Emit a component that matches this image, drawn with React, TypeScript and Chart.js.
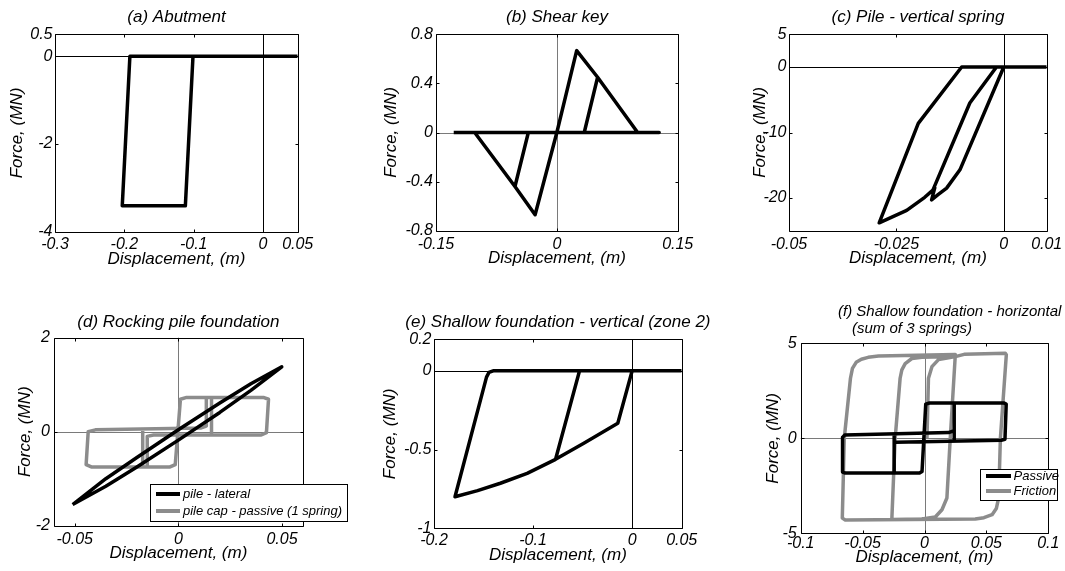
import React, { useEffect, useRef } from 'react';
import { Chart, registerables } from 'chart.js';

Chart.register(...registerables);

const FAMILY = "'Liberation Sans', Arial, Helvetica, sans-serif";
const BLACK = '#000000';
const GRAY = '#8c8c8c';
const ZERO_GRAY = '#7a7a7a';
const TICK_SIZE = 16;
const LABEL_SIZE = 17;
const TITLE_SIZE = 17;
const LEGEND_SIZE = 13;
const X_LABEL = 'Displacement, (m)';
const Y_LABEL = 'Force, (MN)';

// (a) Abutment
const abutmentDisp = [0.05, -0.192, -0.203, -0.112, -0.101];
const abutmentForce = [0, 0, -3.41, -3.41, 0];
const abutmentXTicks = [-0.3, -0.2, -0.1, 0, 0.05];
const abutmentYTicks = [-4, -2, 0, 0.5];

// (b) Shear key
const shearKeyDisp = [-0.128, 0.127, 0.1003, 0.0506, 0.034, 0.0506, 0.0246, 0, -0.027, -0.052, -0.0354, -0.052, -0.102];
const shearKeyForce = [0, 0, 0, 0.45, 0, 0.45, 0.667, 0, -0.67, -0.44, 0, -0.44, 0];
const shearKeyXTicks = [-0.15, 0, 0.15];
const shearKeyYTicks = [-0.8, -0.4, 0, 0.4, 0.8];

// (c) Pile - vertical spring
const pileVertDisp = [0.01, -0.0098, -0.0199, -0.029, -0.0226, -0.0184, -0.0165, -0.0079, -0.0017, 0, -0.0102, -0.0133, -0.0153, -0.0168, -0.016];
const pileVertForce = [0, 0, -8.6, -23.8, -21.9, -19.9, -18.8, -5.5, 0, 0, -15.7, -18.5, -19.5, -20.3, -18.3];
const pileVertXTicks = [-0.05, -0.025, 0, 0.01];
const pileVertYTicks = [-20, -10, 0, 5];

// (d) Rocking pile foundation
const pileLateralDisp = [-0.051, -0.035, -0.02, 0, 0.02, 0.035, 0.0499, 0.035, 0.02, 0, -0.02, -0.035, -0.051];
const pileLateralForce = [-1.55, -1.0, -0.55, 0.04, 0.61, 1.02, 1.38, 0.88, 0.41, -0.18, -0.75, -1.16, -1.55];
const pileCapDisp = [0.0135, 0.0135, 0.011, -0.04, -0.0435, -0.0445, -0.042, -0.004, -0.0015, 0.001, 0.004, 0.041, 0.0435, 0.0425, 0.04, -0.012, -0.015, -0.015, null, 0.016, 0.016, null, -0.0172, -0.0172];
const pileCapForce = [0.7, 0.12, 0.08, 0.04, 0.0, -0.7, -0.75, -0.75, -0.7, 0.69, 0.73, 0.73, 0.69, -0.02, -0.07, -0.07, -0.1, -0.72, null, -0.06, 0.73, null, 0.045, -0.75];
const rockingXTicks = [-0.05, 0, 0.05];
const rockingYTicks = [-2, 0, 2];

// (e) Shallow foundation - vertical (zone 2)
const shallowVertDisp = [0.05, -0.1403, -0.1445, -0.147, -0.1788, -0.156, -0.133, -0.106, -0.0773, -0.0488, -0.0145, 0, null, -0.0773, -0.0531];
const shallowVertForce = [0, 0, -0.01, -0.04, -0.8, -0.761, -0.714, -0.651, -0.562, -0.46, -0.333, 0, null, -0.562, 0];
const shallowVertXTicks = [-0.2, -0.1, 0, 0.05];
const shallowVertYTicks = [-1, -0.5, 0, 0.2];

// (f) Shallow foundation - horizontal (sum of 3 springs)
const passiveDisp = [0.024, 0.0195, -0.0645, -0.0662, -0.0662, -0.064, -0.004, -0.002, 0.001, 0.004, 0.064, 0.066, 0.065, 0.062, -0.0235, null, 0.024, 0.024, null, -0.0245, -0.0245];
const passiveForce = [0.4, 0.3, 0.17, 0.05, -1.78, -1.83, -1.83, -1.75, 1.8, 1.86, 1.86, 1.8, -0.05, -0.1, -0.21, null, -0.12, 1.86, null, 0.21, -1.83];
const frictionDisp = [0.002, 0.0032, 0.006, 0.0113, 0.0194, 0.0249, 0.032, 0.0653, 0.0661, 0.0613, 0.0599, 0.058, 0.0546, 0.048, 0.041, -0.064, -0.0664, -0.0648, -0.0598, -0.0582, -0.0552, -0.051, -0.0455, -0.0372, 0.0249, 0.0208, 0.0181, 0.0141, 0.0087, -0.0021, -0.0264, -0.0237, -0.0197, -0.0183, -0.0156, -0.0102, -0.0021, 0.0249];
const frictionForce = [0, 3.16, 3.77, 4.14, 4.24, 4.3, 4.42, 4.47, 4.4, 0, -3.14, -3.7, -4.02, -4.18, -4.25, -4.3, -4.2, 0, 3.16, 3.68, 4.0, 4.16, 4.26, 4.33, 4.41, 0, -3.14, -3.76, -4.14, -4.25, -4.28, 0, 3.16, 3.6, 3.93, 4.2, 4.27, 4.3];
const shallowHorXTicks = [-0.1, -0.05, 0, 0.05, 0.1];
const shallowHorYTicks = [-5, 0, 5];

const panels: any[] = [
  {
    box: { l: 55, t: 34.3, r: 297.7, b: 231.7 }, top: 0, extraRight: 40,
    yTitleX: 17, xTitleY: 259.3, xTickPad: 3, yTickPad: 2.5,
    x: { min: -0.3, max: 0.05, ticks: abutmentXTicks }, y: { min: -4, max: 0.5, ticks: abutmentYTicks },
    zero: BLACK,
    titles: [{ text: '(a) Abutment', x: 176.5, y: 17.5, align: 'center', size: TITLE_SIZE }],
    series: [{ label: 'Abutment', xs: abutmentDisp, ys: abutmentForce, color: BLACK, width: 3.5 }],
  },
  {
    box: { l: 436, t: 34.3, r: 677.7, b: 230.7 }, top: 0, extraRight: 30,
    yTitleX: 391.7, xTitleY: 258.3, xTickPad: 4, yTickPad: 3,
    x: { min: -0.15, max: 0.15, ticks: shearKeyXTicks }, y: { min: -0.8, max: 0.8, ticks: shearKeyYTicks },
    zero: ZERO_GRAY,
    titles: [{ text: '(b) Shear key', x: 557, y: 17.5, align: 'center', size: TITLE_SIZE }],
    series: [{ label: 'Shear key', xs: shearKeyDisp, ys: shearKeyForce, color: BLACK, width: 3.5 }],
  },
  {
    box: { l: 789, t: 34.3, r: 1046.7, b: 230.7 }, top: 0, extraRight: 25,
    yTitleX: 760, xTitleY: 258.3, xTickPad: 4, yTickPad: 2.5,
    x: { min: -0.05, max: 0.01, ticks: pileVertXTicks }, y: { min: -25, max: 5, ticks: pileVertYTicks },
    zero: BLACK,
    titles: [{ text: '(c) Pile - vertical spring', x: 918, y: 17.5, align: 'center', size: TITLE_SIZE }],
    series: [{ label: 'Pile vertical', xs: pileVertDisp, ys: pileVertForce, color: BLACK, width: 3.5 }],
  },
  {
    box: { l: 54, t: 337.7, r: 302.7, b: 525.7 }, top: 295, extraRight: 47,
    yTitleX: 25, xTitleY: 553.3, xTickPad: 4.7, yTickPad: 4,
    x: { min: -0.06, max: 0.06, ticks: rockingXTicks }, y: { min: -2, max: 2, ticks: rockingYTicks },
    zero: ZERO_GRAY,
    titles: [{ text: '(d) Rocking pile foundation', x: 178.4, y: 322.3, align: 'center', size: TITLE_SIZE }],
    series: [
      { label: 'pile - lateral', xs: pileLateralDisp, ys: pileLateralForce, color: BLACK, width: 3.5 },
      { label: 'pile cap - passive (1 spring)', xs: pileCapDisp, ys: pileCapForce, color: GRAY, width: 3.5 },
    ],
    legend: { l: 150, t: 484, r: 347, b: 521, rows: [494, 511], sx0: 156, sx1: 180, tx: 183 },
  },
  {
    box: { l: 434, t: 339.3, r: 681.7, b: 528.3 }, top: 295, extraRight: 35,
    yTitleX: 390, xTitleY: 555.7, xTickPad: 3.1, yTickPad: 2.5,
    x: { min: -0.2, max: 0.05, ticks: shallowVertXTicks }, y: { min: -1, max: 0.2, ticks: shallowVertYTicks },
    zero: BLACK,
    titles: [{ text: '(e) Shallow foundation - vertical (zone 2)', x: 557.9, y: 322.7, align: 'center', size: TITLE_SIZE }],
    series: [{ label: 'Shallow vertical', xs: shallowVertDisp, ys: shallowVertForce, color: BLACK, width: 3.5 }],
  },
  {
    box: { l: 800.7, t: 343.3, r: 1048.3, b: 533.3 }, top: 295, extraRight: 25,
    yTitleX: 773.3, xTitleY: 557.7, xTickPad: 1, yTickPad: 4,
    x: { min: -0.1, max: 0.1, ticks: shallowHorXTicks }, y: { min: -5, max: 5, ticks: shallowHorYTicks },
    zero: ZERO_GRAY,
    titles: [
      { text: '(f) Shallow foundation - horizontal', x: 838, y: 311.7, align: 'left', size: 15 },
      { text: '(sum of 3 springs)', x: 852, y: 329, align: 'left', size: 15 },
    ],
    series: [
      { label: 'Passive', xs: passiveDisp, ys: passiveForce, color: BLACK, width: 3.5 },
      { label: 'Friction', xs: frictionDisp, ys: frictionForce, color: GRAY, width: 3.5 },
    ],
    legend: { l: 980, t: 469, r: 1057, b: 500, rows: [476, 491], sx0: 986, sx1: 1011, tx: 1013.5 },
  },
];

function toPoints(xs: (number | null)[], ys: (number | null)[]) {
  return xs.map((x, i) => (x === null || ys[i] === null ? { x: 0, y: null } : { x, y: ys[i] }));
}

function canvasRect(p: any) {
  const left = Math.floor(p.yTitleX - 14);
  const top = p.top;
  const right = Math.ceil(p.box.r + p.extraRight);
  const bottom = Math.ceil(p.xTitleY + 14);
  return { left, top, right, bottom, width: right - left, height: bottom - top };
}

function makeDecor(p: any, cr: any) {
  return {
    id: 'decor',
    beforeDatasetsDraw(chart: any) {
      const { ctx, chartArea: a } = chart;
      const xs = chart.scales.x;
      const ys = chart.scales.y;
      ctx.save();
      ctx.strokeStyle = p.zero;
      ctx.lineWidth = 1;
      const x0 = Math.round(xs.getPixelForValue(0)) + 0.5;
      const y0 = Math.round(ys.getPixelForValue(0)) + 0.5;
      ctx.beginPath();
      ctx.moveTo(a.left, y0);
      ctx.lineTo(a.right, y0);
      ctx.moveTo(x0, a.top);
      ctx.lineTo(x0, a.bottom);
      ctx.stroke();
      ctx.restore();
    },
    afterDatasetsDraw(chart: any) {
      const { ctx, chartArea: a } = chart;
      const xs = chart.scales.x;
      const ys = chart.scales.y;
      ctx.save();
      ctx.strokeStyle = BLACK;
      ctx.lineWidth = 1;
      const L = Math.round(a.left) + 0.5;
      const R = Math.round(a.right) + 0.5;
      const T = Math.round(a.top) + 0.5;
      const B = Math.round(a.bottom) + 0.5;
      const len = 3;
      ctx.beginPath();
      ctx.rect(L, T, R - L, B - T);
      xs.ticks.forEach((t: any) => {
        const q = Math.round(xs.getPixelForValue(t.value)) + 0.5;
        ctx.moveTo(q, B); ctx.lineTo(q, B - len);
        ctx.moveTo(q, T); ctx.lineTo(q, T + len);
      });
      ys.ticks.forEach((t: any) => {
        const q = Math.round(ys.getPixelForValue(t.value)) + 0.5;
        ctx.moveTo(L, q); ctx.lineTo(L + len, q);
        ctx.moveTo(R, q); ctx.lineTo(R - len, q);
      });
      ctx.stroke();
      ctx.restore();
    },
    afterDraw(chart: any) {
      const ctx = chart.ctx;
      ctx.save();
      ctx.fillStyle = BLACK;
      ctx.textBaseline = 'middle';
      p.titles.forEach((t: any) => {
        ctx.font = `italic ${t.size}px ${FAMILY}`;
        ctx.textAlign = t.align;
        ctx.fillText(t.text, t.x - cr.left, t.y - cr.top);
      });
      const lg = p.legend;
      if (lg) {
        const lx = Math.round(lg.l - cr.left) + 0.5;
        const ly = Math.round(lg.t - cr.top) + 0.5;
        const w = Math.round(lg.r - lg.l);
        const h = Math.round(lg.b - lg.t);
        ctx.fillStyle = '#ffffff';
        ctx.fillRect(lx, ly, w, h);
        ctx.strokeStyle = BLACK;
        ctx.lineWidth = 1;
        ctx.strokeRect(lx, ly, w, h);
        chart.data.datasets.forEach((ds: any, i: number) => {
          const yy = lg.rows[i] - cr.top;
          ctx.strokeStyle = ds.borderColor;
          ctx.lineWidth = 4;
          ctx.beginPath();
          ctx.moveTo(lg.sx0 - cr.left, yy);
          ctx.lineTo(lg.sx1 - cr.left, yy);
          ctx.stroke();
          ctx.fillStyle = BLACK;
          ctx.font = `italic ${LEGEND_SIZE}px ${FAMILY}`;
          ctx.textAlign = 'left';
          ctx.textBaseline = 'middle';
          ctx.fillText(ds.label, lg.tx - cr.left, yy);
        });
      }
      ctx.restore();
    },
  };
}

function Panel({ p }: { p: any }) {
  const ref = useRef<HTMLCanvasElement>(null);
  const cr = canvasRect(p);
  useEffect(() => {
    if (!ref.current) return;
    const tickFont = { family: FAMILY, size: TICK_SIZE, style: 'italic' as const };
    const labelFont = { family: FAMILY, size: LABEL_SIZE, style: 'italic' as const };
    const half = (LABEL_SIZE * 1.2) / 2;
    const chart = new Chart(ref.current, {
      type: 'line',
      data: {
        datasets: p.series.map((s: any) => ({
          label: s.label,
          data: toPoints(s.xs, s.ys),
          borderColor: s.color,
          backgroundColor: s.color,
          borderWidth: s.width,
          pointRadius: 0,
          pointHoverRadius: 0,
          fill: false,
          tension: 0,
          spanGaps: false,
          borderJoinStyle: 'round',
          borderCapStyle: 'butt',
        })),
      },
      options: {
        responsive: false,
        animation: false,
        devicePixelRatio: 1,
        events: [],
        layout: { padding: { left: 0, top: p.box.t - cr.top, right: cr.right - p.box.r, bottom: 0 } },
        plugins: { legend: { display: false }, tooltip: { enabled: false }, title: { display: false } },
        scales: {
          x: {
            type: 'linear',
            position: 'bottom',
            min: p.x.min,
            max: p.x.max,
            bounds: 'data',
            afterBuildTicks: (s: any) => { s.ticks = p.x.ticks.map((v: number) => ({ value: v })); },
            afterFit: (s: any) => { s.height = cr.bottom - p.box.b; },
            grid: { display: false, drawTicks: false },
            border: { display: false },
            ticks: { padding: p.xTickPad, font: tickFont, color: BLACK, autoSkip: false, maxRotation: 0, minRotation: 0, callback: (v: any) => String(v) },
            title: { display: true, text: X_LABEL, font: labelFont, color: BLACK, padding: { top: 0, bottom: cr.bottom - p.xTitleY - half } },
          },
          y: {
            type: 'linear',
            position: 'left',
            min: p.y.min,
            max: p.y.max,
            bounds: 'data',
            afterBuildTicks: (s: any) => { s.ticks = p.y.ticks.map((v: number) => ({ value: v })); },
            afterFit: (s: any) => { s.width = p.box.l - cr.left; },
            grid: { display: false, drawTicks: false },
            border: { display: false },
            ticks: { padding: p.yTickPad, font: tickFont, color: BLACK, autoSkip: false, callback: (v: any) => String(v) },
            title: { display: true, text: Y_LABEL, font: labelFont, color: BLACK, padding: { top: p.yTitleX - cr.left - half, bottom: 0 } },
          },
        },
      } as any,
      plugins: [makeDecor(p, cr)],
    });
    return () => chart.destroy();
  }, []);
  return (
    <canvas
      ref={ref}
      width={cr.width}
      height={cr.height}
      style={{ position: 'absolute', left: cr.left, top: cr.top, width: cr.width, height: cr.height }}
    />
  );
}

export default function App() {
  return (
    <div style={{ position: 'absolute', left: 0, top: 0, width: 1065, height: 571, background: '#ffffff', overflow: 'hidden' }}>
      {panels.map((p, i) => (
        <Panel key={i} p={p} />
      ))}
    </div>
  );
}
